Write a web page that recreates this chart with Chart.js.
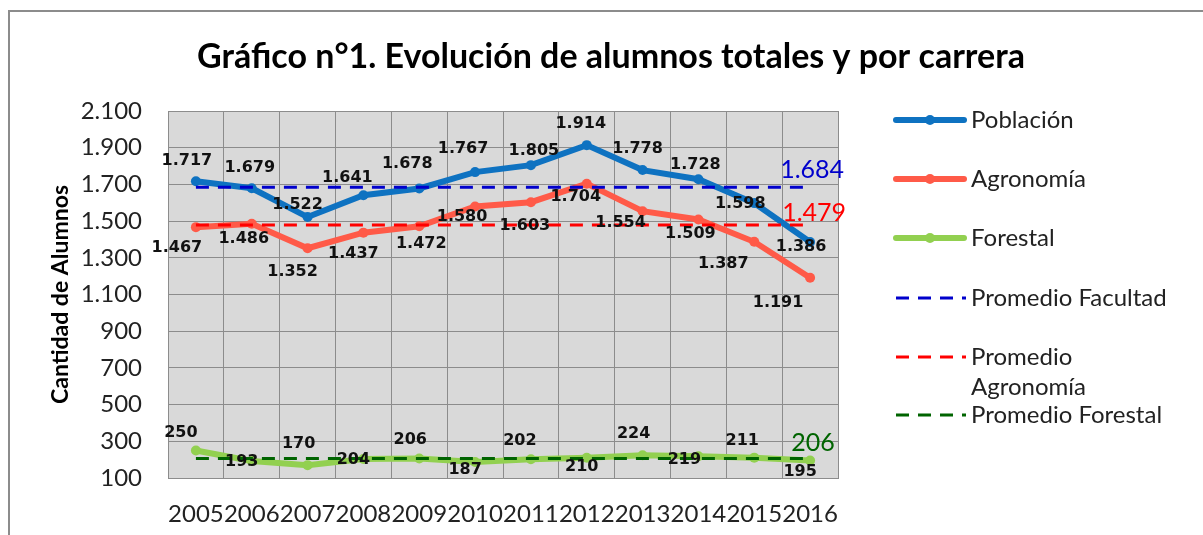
<!DOCTYPE html>
<html><head><meta charset="utf-8">
<script src="https://cdn.jsdelivr.net/npm/chart.js@4.4.1/dist/chart.umd.min.js"></script>
<style>html,body{margin:0;padding:0;background:#fff}canvas{display:block}</style>
</head><body>
<canvas id="c" width="1203" height="535"></canvas>
<script>
// ---- DATA ----
const years = ['2005','2006','2007','2008','2009','2010','2011','2012','2013','2014','2015','2016'];
const poblacion = [1717,1679,1522,1641,1678,1767,1805,1914,1778,1728,1598,1386];
const agronomia = [1467,1486,1352,1437,1472,1580,1603,1704,1554,1509,1387,1191];
const forestal  = [250,193,170,204,206,187,202,210,224,219,211,195];
const promedioFacultad = 1684;
const promedioAgronomia = 1479;
const promedioForestal = 206;
const yMin = 100, yMax = 2100, yStep = 200;
const chartTitle = 'Gráfico n°1. Evolución de alumnos totales y por carrera';
const yTitle = 'Cantidad de Alumnos';

// ---- STYLE ----
const fmt = v => String(v).replace(/\B(?=(\d{3})+(?!\d))/g, '.');
const C_POB = '#0E72C1', C_AGR = '#FF5A48', C_FOR = '#92D050';
const C_AVG_POB = '#0000CC', C_AVG_AGR = '#FF0000', C_AVG_FOR = '#006400';

const labelOffsets = [
  [[-9,-20],[-2,-20],[-10,-12],[-16,-17],[-12,-25],[-12,-23],[3,-14],[-6,-21],[-5,-21],[-3,-14],[-14,1],[-9,5]],
  [[-19,21],[-8,15],[-15,24],[-10,21],[2,18],[-13,10],[-6,24],[-11,13],[-22,12],[-8,14],[-31,22],[-32,25]],
  [[-15,-18],[-10,1],[-9,-21],[-10,1],[-9,-19],[-10,8],[-11,-18],[-5,9],[-9,-21],[-14,4],[-12,-17],[-10,11]]
];
const avgLabelOffsets = [[2,-17],[4,-12],[3,-16]];
const legendY = [120,179,238,298,357,415];
const legendLines = [['Población'],['Agronomía'],['Forestal'],['Promedio Facultad'],['Promedio','Agronomía'],['Promedio Forestal']];

const series = (label, data, color) => ({
  label, data, borderColor: color, backgroundColor: color,
  borderWidth: 6, pointRadius: 5, pointHoverRadius: 5, pointStyle: 'circle',
  pointBorderWidth: 0, tension: 0, order: 1
});
const avgLine = (label, value, color) => ({
  label, data: years.map(() => value), borderColor: color, backgroundColor: color,
  borderWidth: 3, borderDash: [13, 9], pointRadius: 0, pointHoverRadius: 0, order: 0,
  avgValue: value
});

const decor = {
  id: 'decor',
  beforeDraw(chart) {
    const { ctx, chartArea: a } = chart;
    ctx.save();
    ctx.fillStyle = '#fff'; ctx.fillRect(0, 0, chart.width, chart.height);
    ctx.strokeStyle = '#8c8c8c'; ctx.lineWidth = 2;
    ctx.beginPath(); ctx.moveTo(9, chart.height); ctx.lineTo(9, 11); ctx.lineTo(chart.width, 11); ctx.stroke();
    ctx.fillStyle = '#d9d9d9'; ctx.fillRect(a.left, a.top, a.right - a.left, a.bottom - a.top);
    ctx.restore();
  },
  afterDatasetsDraw(chart) {
    const { ctx } = chart;
    const xs = chart.scales.x, ys = chart.scales.y;
    ctx.save();
    ctx.textAlign = 'center'; ctx.textBaseline = 'middle';
    ctx.font = 'bold 16px "DejaVu Sans"'; ctx.fillStyle = '#111';
    for (let d = 0; d < 3; d++) {
      const data = chart.data.datasets[d].data;
      data.forEach((v, i) => {
        const o = labelOffsets[d][i];
        ctx.fillText(fmt(v), xs.getPixelForValue(i) + o[0], ys.getPixelForValue(v) + o[1]);
      });
    }
    ctx.font = '25px Lato';
    for (let d = 3; d < 6; d++) {
      const ds = chart.data.datasets[d];
      const o = avgLabelOffsets[d - 3];
      const last = ds.data.length - 1;
      ctx.fillStyle = ds.borderColor;
      ctx.fillText(fmt(ds.avgValue), xs.getPixelForValue(last) + o[0], ys.getPixelForValue(ds.avgValue) + o[1]);
    }
    ctx.restore();
  },
  afterDraw(chart) {
    const { ctx } = chart;
    ctx.save();
    ctx.fillStyle = '#000'; ctx.textAlign = 'center'; ctx.textBaseline = 'middle';
    ctx.font = 'bold 34px Lato';
    ctx.fillText(chartTitle, 611, 57);
    // legend
    chart.data.datasets.forEach((ds, i) => {
      const y = legendY[i];
      ctx.save();
      ctx.strokeStyle = ds.borderColor; ctx.lineWidth = ds.borderWidth;
      ctx.lineCap = ds.borderDash ? 'butt' : 'round';
      if (ds.borderDash) ctx.setLineDash(ds.borderDash);
      ctx.beginPath();
      if (ds.borderDash) { ctx.moveTo(896, y); ctx.lineTo(966, y); }
      else { ctx.moveTo(896, y); ctx.lineTo(964, y); }
      ctx.stroke();
      if (ds.pointRadius > 0) {
        ctx.fillStyle = ds.backgroundColor;
        ctx.beginPath(); ctx.arc(930, y, ds.pointRadius, 0, Math.PI * 2); ctx.fill();
      }
      ctx.restore();
      ctx.fillStyle = '#222'; ctx.textAlign = 'left'; ctx.font = '24px Lato';
      legendLines[i].forEach((t, k) => ctx.fillText(t, 971, y + k * 30));
    });
    ctx.restore();
  }
};

new Chart(document.getElementById('c'), {
  type: 'line',
  data: {
    labels: years,
    datasets: [
      series('Población', poblacion, C_POB),
      series('Agronomía', agronomia, C_AGR),
      series('Forestal', forestal, C_FOR),
      avgLine('Promedio Facultad', promedioFacultad, C_AVG_POB),
      avgLine('Promedio Agronomía', promedioAgronomia, C_AVG_AGR),
      avgLine('Promedio Forestal', promedioForestal, C_AVG_FOR)
    ]
  },
  options: {
    responsive: false, animation: false,
    layout: { padding: { left: 47, right: 365, top: 111, bottom: 0 } },
    plugins: { legend: { display: false }, title: { display: false }, tooltip: { enabled: false } },
    scales: {
      x: {
        offset: true,
        grid: { offset: true, color: '#8c8c8c', lineWidth: 1, drawTicks: false },
        border: { color: '#8c8c8c' },
        ticks: { font: { family: 'Lato', size: 24 }, color: '#222', padding: 22, maxRotation: 0, autoSkip: false },
        afterFit: s => { s.height = 57; }
      },
      y: {
        min: yMin, max: yMax,
        grid: { color: '#8c8c8c', lineWidth: 1, drawTicks: false },
        border: { color: '#8c8c8c' },
        ticks: { stepSize: yStep, font: { family: 'Lato', size: 24 }, color: '#222', padding: 26, callback: v => fmt(v) },
        title: { display: true, text: yTitle, font: { family: 'Lato', size: 23, weight: 'bold' }, color: '#000', padding: 0 },
        afterFit: s => { s.width = 121; }
      }
    }
  },
  plugins: [decor]
});
</script>
</body></html>
